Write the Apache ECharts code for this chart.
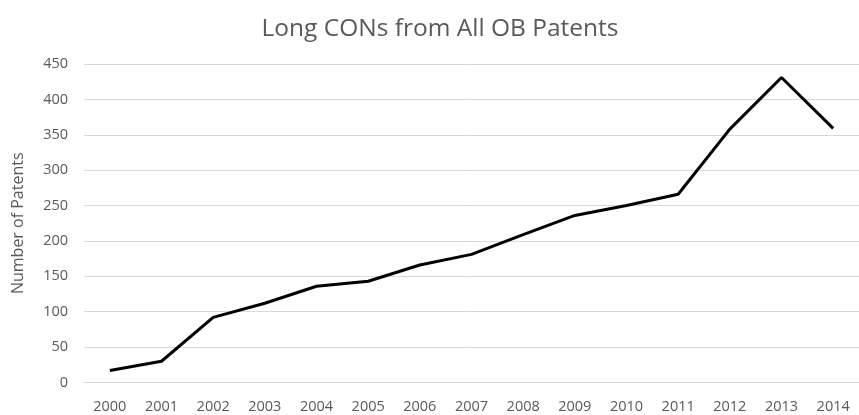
<!DOCTYPE html>
<html>
<head>
<meta charset="utf-8">
<script src="https://cdn.jsdelivr.net/npm/echarts@6/dist/echarts.min.js"></script>
<style>html,body{margin:0;padding:0;background:#fff;}#c{width:859px;height:415px;}</style>
</head>
<body>
<div id="c"></div>
<script>
const years = ['2000','2001','2002','2003','2004','2005','2006','2007','2008','2009','2010','2011','2012','2013','2014'];
const patents = [17, 30, 92, 112, 136, 143, 166, 181, 209, 236, 250, 266, 358, 431, 359];
const yTicks = [0, 50, 100, 150, 200, 250, 300, 350, 400, 450];
const titleText = 'Long CONs from All OB Patents';
const yName = 'Number of Patents';

const font = '"Open Sans", "Liberation Sans", sans-serif';
const chart = echarts.init(document.getElementById('c'), null, {renderer: 'canvas'});
chart.setOption({
  animation: false,
  backgroundColor: '#ffffff',
  title: {
    text: titleText, left: 435, top: 12, textAlign: 'center',
    textStyle: {fontFamily: font, fontSize: 24.5, fontWeight: 'normal', color: '#595959'}
  },
  grid: {left: 84, top: 64, width: 783, height: 318.5, containLabel: false},
  xAxis: {
    type: 'category', data: years, boundaryGap: true,
    axisLine: {show: true, lineStyle: {color: '#d9d9d9', width: 1}},
    axisTick: {show: false},
    axisLabel: {fontFamily: font, fontSize: 14.5, color: '#595959', margin: 17}
  },
  yAxis: {
    type: 'value', min: yTicks[0], max: yTicks[yTicks.length - 1], interval: 50,
    name: yName, nameLocation: 'middle', nameGap: 58, nameRotate: 90,
    nameTextStyle: {fontFamily: font, fontSize: 16, color: '#595959'},
    axisLine: {show: false}, axisTick: {show: false},
    axisLabel: {fontFamily: font, fontSize: 14.5, color: '#595959', margin: 16},
    splitLine: {lineStyle: {color: '#d9d9d9', width: 1}}
  },
  series: [{
    type: 'line', data: patents, symbol: 'none',
    lineStyle: {color: '#000000', width: 3}
  }]
});
</script>
</body>
</html>
